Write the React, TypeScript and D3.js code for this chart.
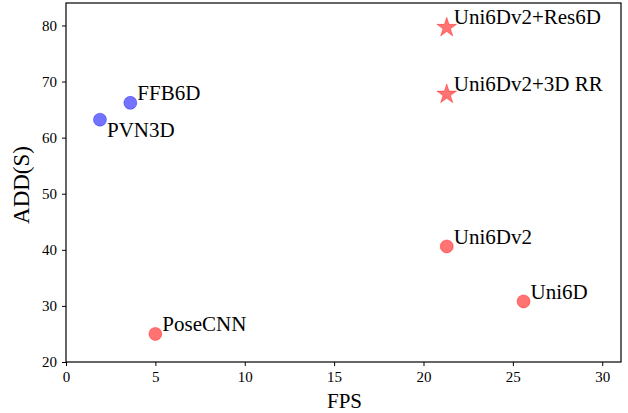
import React, { useEffect, useRef } from 'react';
import * as d3 from 'd3';

const methods = ['PVN3D', 'FFB6D', 'PoseCNN', 'Uni6Dv2', 'Uni6D', 'Uni6Dv2+Res6D', 'Uni6Dv2+3D RR'];
const fps = [1.9, 3.6, 5.0, 21.3, 25.6, 21.3, 21.3];
const addS = [63.2, 66.2, 25.0, 40.6, 30.8, 79.8, 67.9];
const colors = ['blue', 'blue', 'red', 'red', 'red', 'red', 'red'];
const markers = ['circle', 'circle', 'circle', 'circle', 'circle', 'star', 'star'];
// label below the point only for PVN3D
const labelBelow = [true, false, false, false, false, false, false];

const xTicks = [0, 5, 10, 15, 20, 25, 30];
const yTicks = [20, 30, 40, 50, 60, 70, 80];

function App() {
  const svgRef = useRef<SVGSVGElement>(null);

  useEffect(() => {
    const width = 628;
    const height = 413;
    const margin = { top: 3, right: 7, bottom: 51, left: 66 };
    const innerWidth = width - margin.left - margin.right;
    const innerHeight = height - margin.top - margin.bottom;

    const svg = d3.select(svgRef.current);
    svg.selectAll('*').remove();

    const g = svg.append('g').attr('transform', `translate(${margin.left},${margin.top})`);

    const x = d3.scaleLinear().domain([0, 31.05]).range([0, innerWidth]);
    const y = d3.scaleLinear().domain([20, 84]).range([innerHeight, 0]);

    const font = 'Liberation Serif, DejaVu Serif, serif';

    // x axis
    const xAxis = g.append('g')
      .attr('transform', `translate(0,${innerHeight})`)
      .call(d3.axisBottom(x).tickValues(xTicks).tickSize(4).tickPadding(5).tickFormat(d3.format('d')));
    xAxis.select('.domain').remove();
    xAxis.attr('font-family', null);
    xAxis.selectAll('text').style('font-size', '15px').style('font-family', font).attr('fill', '#000');

    // y axis
    const yAxis = g.append('g')
      .call(d3.axisLeft(y).tickValues(yTicks).tickSize(4).tickPadding(5).tickFormat(d3.format('d')));
    yAxis.select('.domain').remove();
    yAxis.attr('font-family', null);
    yAxis.selectAll('text').style('font-size', '15px').style('font-family', font).attr('fill', '#000');

    // frame
    g.append('rect')
      .attr('x', 0).attr('y', 0)
      .attr('width', innerWidth).attr('height', innerHeight)
      .attr('fill', 'none').attr('stroke', '#000').attr('stroke-width', 1.2);

    // axis labels
    g.append('text')
      .attr('x', innerWidth / 2 + 1)
      .attr('y', innerHeight + 46)
      .attr('text-anchor', 'middle')
      .style('font-family', font)
      .style('font-size', '21px')
      .text('FPS');

    g.append('text')
      .attr('transform', 'rotate(-90)')
      .attr('x', -innerHeight / 2 - 2.5)
      .attr('y', -37)
      .attr('text-anchor', 'middle')
      .style('font-family', font)
      .style('font-size', '23px')
      .text('ADD(S)');

    const data = methods.map((m, i) => ({
      name: m, fps: fps[i], add: addS[i], color: colors[i], marker: markers[i], below: labelBelow[i],
    }));

    const star = d3.symbol().type(d3.symbolStar).size(120);

    data.forEach(d => {
      const px = x(d.fps);
      const py = y(d.add);
      if (d.marker === 'star') {
        g.append('path')
          .attr('d', star() as string)
          .attr('transform', `translate(${px},${py + 1})`)
          .attr('fill', d.color)
          .attr('fill-opacity', 0.55)
          .attr('stroke', d.color)
          .attr('stroke-opacity', 0.35)
          .attr('stroke-width', 1);
      } else {
        g.append('circle')
          .attr('cx', px)
          .attr('cy', py)
          .attr('r', 6.5)
          .attr('fill', d.color)
          .attr('fill-opacity', 0.55)
          .attr('stroke', d.color)
          .attr('stroke-opacity', 0.35)
          .attr('stroke-width', 1);
      }
      g.append('text')
        .attr('x', px + 7)
        .attr('y', d.below ? py + 17 : py - 2.5)
        .style('font-family', font)
        .style('font-size', '21px')
        .attr('fill', '#000')
        .text(d.name);
    });
  }, []);

  return (
    <svg
      ref={svgRef}
      width={628}
      height={413}
      style={{ position: 'absolute', left: 0, top: 0, background: '#fff' }}
    />
  );
}

export default App;
